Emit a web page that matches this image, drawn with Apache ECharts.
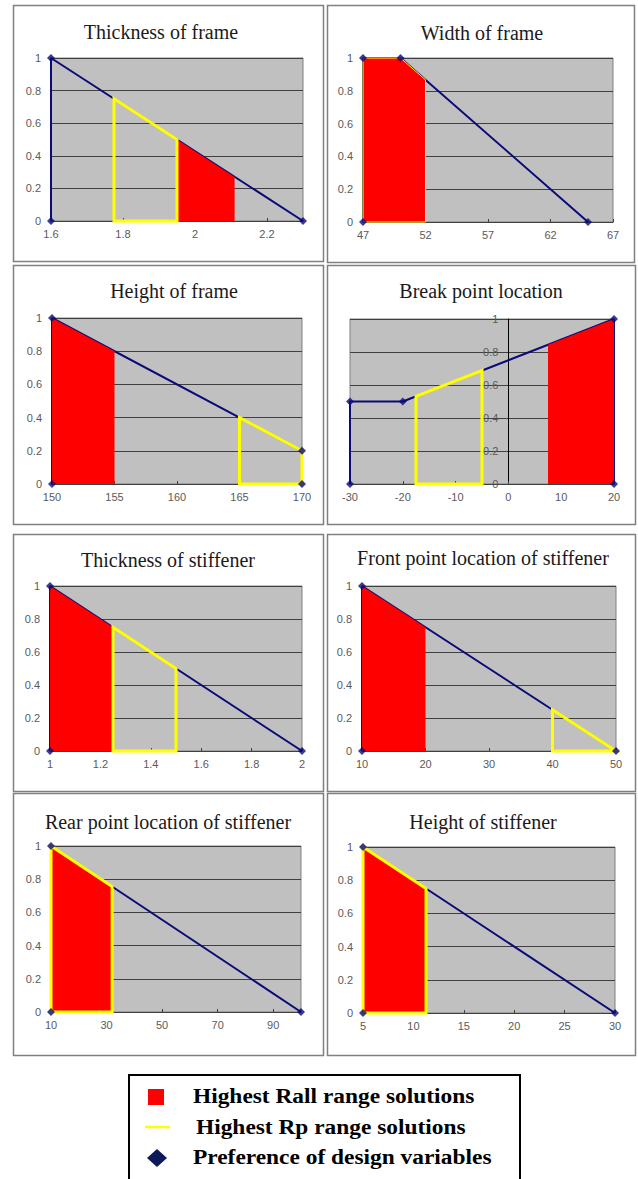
<!DOCTYPE html>
<html>
<head>
<meta charset="utf-8">
<script src="https://cdn.jsdelivr.net/npm/echarts@6/dist/echarts.min.js"></script>
<style>
html,body{margin:0;padding:0;background:#ffffff;}
#chart{width:638px;height:1179px;}
</style>
</head>
<body>
<div id="chart"></div>
<script>
// ---------- DATA ----------
const panelTitles = [
  'Thickness of frame', 'Width of frame',
  'Height of frame', 'Break point location',
  'Thickness of stiffener', 'Front point location of stiffener',
  'Rear point location of stiffener', 'Height of stiffener'
];
const xMins  = [1.6, 47, 150, -30, 1, 10, 10, 5];
const xMaxs  = [2.3, 67, 170, 20, 2, 50, 100, 30];
const xSteps = [0.2, 5, 5, 10, 0.2, 10, 20, 5];
const yMin = 0, yMax = 1, yStep = 0.2;

// Preference of design variables (navy line with diamonds)
const prefThicknessFrame  = [[1.6,0],[1.6,1],[2.3,0]];
const prefWidthFrame      = [[47,0],[47,1],[50,1],[65,0]];
const prefHeightFrame     = [[150,0],[150,1],[170,0.2],[170,0]];
const prefBreakPoint      = [[-30,0],[-30,0.5],[-20,0.5],[20,1],[20,0]];
const prefThickStiff      = [[1,0],[1,1],[2,0]];
const prefFrontStiff      = [[10,0],[10,1],[50,0]];
const prefRearStiff       = [[10,0],[10,1],[100,0]];
const prefHeightStiff     = [[5,0],[5,1],[30,0]];

// Highest Rall range solutions (red areas)
const rallThicknessFrame  = [[1.95,0],[1.95,0.5],[2.11,0.27],[2.11,0]];
const rallWidthFrame      = [[47,0],[47,1],[50,1],[52,0.867],[52,0]];
const rallHeightFrame     = [[150,0],[150,1],[155,0.8],[155,0]];
const rallBreakPoint      = [[7.5,0],[7.5,0.844],[20,1],[20,0]];
const rallThickStiff      = [[1,0],[1,1],[1.25,0.75],[1.25,0]];
const rallFrontStiff      = [[10,0],[10,1],[20,0.75],[20,0]];
const rallRearStiff       = [[10,0],[10,1],[32,0.756],[32,0]];
const rallHeightStiff     = [[5,0],[5,1],[11.25,0.75],[11.25,0]];

// Highest Rp range solutions (yellow outlines)
const rpThicknessFrame    = [[1.775,0],[1.775,0.75],[1.95,0.5],[1.95,0]];
const rpWidthFrame        = [[47,0],[47,1],[50,1],[52,0.867],[52,0]];
const rpHeightFrame       = [[165,0],[165,0.4],[170,0.2],[170,0]];
const rpBreakPoint        = [[-17.5,0],[-17.5,0.531],[-5,0.688],[-5,0]];
const rpThickStiff        = [[1.25,0],[1.25,0.75],[1.5,0.5],[1.5,0]];
const rpFrontStiff        = [[40,0],[40,0.25],[50,0]];
const rpRearStiff         = [[10,0],[10,1],[32,0.756],[32,0]];
const rpHeightStiff       = [[5,0],[5,1],[11.25,0.75],[11.25,0]];

const prefSets = [prefThicknessFrame, prefWidthFrame, prefHeightFrame, prefBreakPoint,
                  prefThickStiff, prefFrontStiff, prefRearStiff, prefHeightStiff];
const rallSets = [rallThicknessFrame, rallWidthFrame, rallHeightFrame, rallBreakPoint,
                  rallThickStiff, rallFrontStiff, rallRearStiff, rallHeightStiff];
const rpSets   = [rpThicknessFrame, rpWidthFrame, rpHeightFrame, rpBreakPoint,
                  rpThickStiff, rpFrontStiff, rpRearStiff, rpHeightStiff];

const legendLabels = ['Highest Rall range solutions', 'Highest Rp range solutions', 'Preference of design variables'];

// ---------- LAYOUT / STYLE ----------
const gridBoxes = [
  [51,58,252,163],[363,58,250,164],
  [52,318,250,166],[350,319,264,165],
  [50,586,252,165],[362,586,254,165],
  [51,846,250,166],[363,847,252,166]
];
const frameBoxes = [
  [13,5,310,256],[327,5,307,257],
  [13,265,310,259],[327,265,308,259],
  [13,534,310,257],[327,534,308,257],
  [13,793,310,262],[327,793,308,262]
];
const titlePos = [[161,32],[482,33],[174,291],[481,291],[168,560],[483,558],[168,822],[483,822]];
const rpWidths = [3,1,3,3,3,3,3,3];
const NAVY = '#0a0a78';
const LABEL = {color:'#5a5a5a', fontSize:11, fontFamily:'"Liberation Sans", Arial, sans-serif'};

const grid = [], xAxis = [], yAxis = [], series = [], graphic = [];

function polyRender(points, style) {
  return function (params, api) {
    if (params.dataIndex !== 0) return null;
    return {
      type: 'polygon',
      shape: { points: points.map(p => api.coord(p)) },
      style: style
    };
  };
}

for (let i = 0; i < 8; i++) {
  const g = gridBoxes[i];
  grid.push({
    left: g[0], top: g[1], width: g[2], height: g[3],
    show: true, backgroundColor: '#c0c0c0', borderColor: '#808080', borderWidth: 1
  });
  const isBreak = (i === 3);
  const nSteps = (xMaxs[i] - xMins[i]) / xSteps[i];
  const alignedMax = Math.abs(nSteps - Math.round(nSteps)) < 1e-6;
  // y axis crossing at x = 0 for the break point chart
  const yOffset = isBreak ? -g[2] * (0 - xMins[i]) / (xMaxs[i] - xMins[i]) : 0;
  xAxis.push({
    type: 'value', gridIndex: i, min: xMins[i], max: xMaxs[i], interval: xSteps[i],
    axisLine: { show: true, onZero: false, lineStyle: { color: '#404040', width: 1 } },
    axisTick: { show: true, inside: true, length: 3, lineStyle: { color: '#404040' } },
    axisLabel: Object.assign({ margin: 7, showMaxLabel: alignedMax }, LABEL),
    splitLine: { show: false }
  });
  yAxis.push({
    type: 'value', gridIndex: i, min: yMin, max: yMax, interval: yStep,
    offset: yOffset,
    axisLine: { show: true, onZero: false, lineStyle: { color: isBreak ? '#000000' : '#808080', width: 1 } },
    axisTick: { show: false },
    axisLabel: Object.assign({ margin: 10 }, LABEL),
    splitLine: { show: true, lineStyle: { color: '#404040', width: 1 } }
  });
  series.push({
    type: 'line', xAxisIndex: i, yAxisIndex: i, data: prefSets[i],
    symbol: 'none', z: 2, silent: true, animation: false,
    lineStyle: { color: NAVY, width: 2 }
  });
  series.push({
    type: 'custom', xAxisIndex: i, yAxisIndex: i, data: rallSets[i], z: 3, silent: true,
    animation: false,
    renderItem: polyRender(rallSets[i], { fill: '#ff0000', stroke: null })
  });
  series.push({
    type: 'custom', xAxisIndex: i, yAxisIndex: i, data: rpSets[i], z: 4, silent: true,
    animation: false,
    renderItem: polyRender(rpSets[i], { fill: 'none', stroke: '#ffff00', lineWidth: rpWidths[i], lineJoin: 'miter' })
  });
  series.push({
    type: 'scatter', xAxisIndex: i, yAxisIndex: i, data: prefSets[i], z: 5, silent: true,
    animation: false, symbol: 'diamond', symbolSize: 8, itemStyle: { color: NAVY }
  });

  const f = frameBoxes[i];
  graphic.push({
    type: 'rect', silent: true, z: 0,
    shape: { x: f[0] + 0.5, y: f[1] + 0.5, width: f[2], height: f[3] },
    style: { fill: 'none', stroke: '#808080', lineWidth: 1.5 }
  });
  graphic.push({
    type: 'text', silent: true,
    style: {
      text: panelTitles[i], x: titlePos[i][0], y: titlePos[i][1],
      align: 'center', verticalAlign: 'middle',
      font: '20px "Liberation Serif", "Times New Roman", serif', fill: '#1a1a1a'
    }
  });
}

// legend box
graphic.push({ type: 'rect', silent: true,
  shape: { x: 129, y: 1075, width: 391, height: 130 },
  style: { fill: '#ffffff', stroke: '#000000', lineWidth: 2 } });
graphic.push({ type: 'rect', silent: true,
  shape: { x: 148, y: 1089, width: 16, height: 16 }, style: { fill: '#ff0000' } });
graphic.push({ type: 'line', silent: true,
  shape: { x1: 145, y1: 1127, x2: 170, y2: 1127 }, style: { stroke: '#ffff00', lineWidth: 2.5 } });
graphic.push({ type: 'polygon', silent: true,
  shape: { points: [[157,1149],[167,1158],[157,1167],[147,1158]] }, style: { fill: '#0c1a5a' } });
const legendY = [1097, 1128, 1158];
const legendX = [193, 196, 193];
for (let k = 0; k < 3; k++) {
  graphic.push({ type: 'text', silent: true,
    x: legendX[k], y: legendY[k], scaleX: 1.17, scaleY: 1,
    style: { text: legendLabels[k], x: 0, y: 0, align: 'left', verticalAlign: 'middle',
      font: 'bold 20px "Liberation Serif", "Times New Roman", serif', fill: '#000000' } });
}

const chart = echarts.init(document.getElementById('chart'), null, { renderer: 'svg', width: 638, height: 1179 });
chart.setOption({
  animation: false,
  backgroundColor: '#ffffff',
  grid: grid, xAxis: xAxis, yAxis: yAxis, series: series, graphic: graphic
});
</script>
</body>
</html>
